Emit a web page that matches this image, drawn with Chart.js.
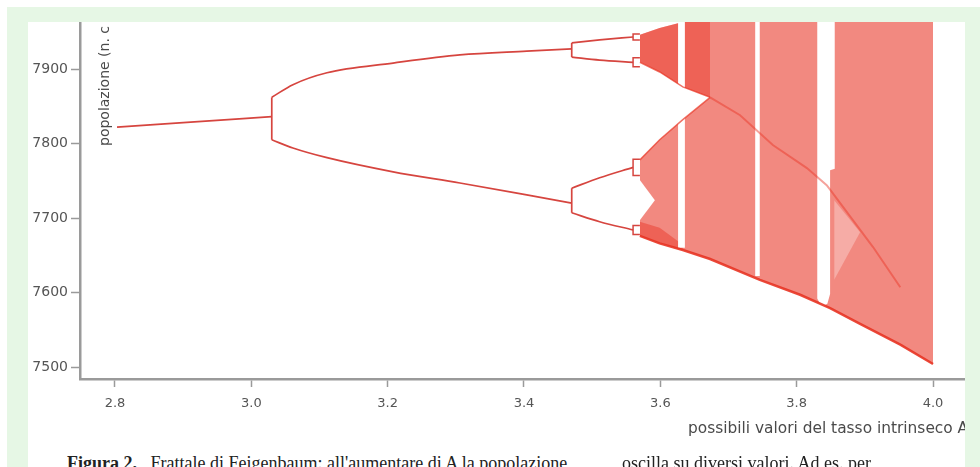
<!DOCTYPE html>
<html lang="it">
<head>
<meta charset="utf-8">
<title>Frattale di Feigenbaum</title>
<script src="https://cdn.jsdelivr.net/npm/chart.js@4.4.1/dist/chart.umd.min.js"></script>
<style>
  html, body { margin: 0; padding: 0; background: #fff; }
  body { width: 980px; height: 467px; position: relative; overflow: hidden; font-family: "DejaVu Sans", sans-serif; }
  #frame { position: absolute; left: 7px; top: 7px; right: 0; bottom: 0; background: #e6f7e5; }
  #panel { position: absolute; left: 28px; top: 22px; width: 937px; height: 445px; background: #fff; overflow: hidden; }
  #chart { position: absolute; left: 0; top: 0; }
  .ytitle { position: absolute; left: 68px; top: 124px; transform-origin: 0 0; transform: rotate(-90deg); font-size: 14px; line-height: 16px; color: #4a4a4a; white-space: nowrap; }
  .xtitle { position: absolute; left: 660px; top: 398px; font-size: 15.4px; line-height: 17px; color: #4a4a4a; white-space: nowrap; }
  .caption { position: absolute; top: 432px; font-family: "Liberation Serif", serif; font-size: 18px; line-height: 18px; color: #222; white-space: nowrap; }
</style>
</head>
<body>
<div id="frame"></div>
<div id="panel">
  <canvas id="chart" width="937" height="400"></canvas>
  <div class="ytitle">popolazione (n. c</div>
  <div class="xtitle">possibili valori del tasso intrinseco A</div>
  <div class="caption" style="left:39px"><b>Figura 2.</b>&nbsp;&nbsp; Frattale di Feigenbaum: all'aumentare di A la popolazione</div>
  <div class="caption" style="left:594px">oscilla su diversi valori. Ad es. per</div>
</div>
<script>
const xTicks = [2.8, 3.0, 3.2, 3.4, 3.6, 3.8, 4.0];
const yTicks = [7500, 7600, 7700, 7800, 7900];

// single stable value
const rStable = [2.803, 2.9, 3.030];
const popStable = [7822, 7828, 7836];

// period 2
const rPeriod2 = [3.030, 3.061, 3.111, 3.208, 3.306, 3.404, 3.470];
const popPeriod2Upper = [7862, 7879, 7895, 7908, 7919, 7924, 7927];
const popPeriod2Lower = [7805, 7794, 7781, 7762, 7747, 7731, 7720];

// period 4
const rPeriod4 = [3.470, 3.511, 3.560];
const popPeriod4A = [7935, 7939, 7943];
const popPeriod4B = [7916, 7912, 7909];
const popPeriod4C = [7740, 7754, 7768];
const popPeriod4D = [7707, 7695, 7684];

// period 8 (small eyes before chaos)
const rPeriod8 = [3.560, 3.570];
const popPeriod8High = [7947, 7915, 7779, 7690];
const popPeriod8Low = [7939, 7903, 7757, 7678];

// chaotic region envelope
const rChaos = [3.570, 3.599, 3.633, 3.673, 3.746, 3.805, 3.849, 3.893, 3.952, 4.000];
const popChaosTop = [7946, 7955, 7963, 7975, 7990, 7990, 7990, 7990, 7990, 7990];
const popChaosBottom = [7676, 7666, 7657, 7645, 7617, 7597, 7579, 7558, 7530, 7504];

// two bands before they merge
const rBands = [3.570, 3.599, 3.633, 3.673];
const popUpperBandFloor = [7909, 7896, 7876, 7862];
const popLowerBandCeil = [7778, 7805, 7832, 7862];

// dense bottom of the lower band
const rLowDense = [3.570, 3.599, 3.633];
const popLowDenseTop = [7695, 7687, 7664];

// white wedge inside lower band
const rWedge = [3.570, 3.592];
const popWedgeTop = [7751, 7724];
const popWedgeBottom = [7697, 7724];

// light wedge right of the period-3 window
const rWedge3 = [3.855, 3.893];
const popWedge3Top = [7724, 7681];
const popWedge3Bottom = [7617, 7681];

// periodic windows
const rWindow6 = [3.626, 3.636];
const popWindow6Floor = [7660, 7660];
const rWindow5 = [3.739, 3.746];
const popWindow5Floor = [7622, 7622];
const rWindow3 = [3.830, 3.837, 3.845, 3.849, 3.849, 3.856];
const popWindow3Floor = [7592, 7581, 7585, 7598, 7764, 7766];

// dense curve crossing the chaos
const rDense = [3.673, 3.717, 3.765, 3.815, 3.844, 3.849, 3.912, 3.952];
const popDense = [7862, 7838, 7798, 7767, 7744, 7738, 7661, 7607];

const RED = "rgba(232, 52, 36, ";
const LINE = "#d6453f";

function pts(rs, ps) {
  return rs.map((r, i) => ({ x: r, y: ps[i] }));
}

function hidden(data) {
  return { data, borderWidth: 0, borderColor: "transparent", fill: false };
}

function area(data, color, fill) {
  return { data, borderWidth: 0, borderColor: "transparent", backgroundColor: color, fill: fill || "-1" };
}

function stroke(data, color, width) {
  return { data, borderColor: color, borderWidth: width, fill: false };
}

function branch(rs, ps) {
  const s = stroke(pts(rs, ps), LINE, 1.7);
  s.cubicInterpolationMode = "monotone";
  return s;
}

function bracket(r, a, b) {
  return stroke([{ x: r, y: a }, { x: r, y: b }], LINE, 1.7);
}

// listed in paint order, background first
const sets = [
  hidden(pts(rChaos, popChaosTop)),
  area(pts(rChaos, popChaosBottom), RED + "0.58)"),
  hidden(pts(rBands, popChaosTop.slice(0, 4))),
  area(pts(rBands, popUpperBandFloor), RED + "0.45)"),
  hidden(pts(rLowDense, popLowDenseTop)),
  area(pts(rLowDense, popChaosBottom.slice(0, 3)), RED + "0.45)"),
  hidden(pts(rBands, popUpperBandFloor)),
  area(pts(rBands, popLowerBandCeil), "#ffffff"),
  hidden(pts(rWedge, popWedgeTop)),
  area(pts(rWedge, popWedgeBottom), "#ffffff"),
  hidden(pts(rWedge3, popWedge3Top)),
  area(pts(rWedge3, popWedge3Bottom), "rgba(255,255,255,0.3)"),
  area(pts(rWindow6, popWindow6Floor), "#ffffff", "end"),
  area(pts(rWindow5, popWindow5Floor), "#ffffff", "end"),
  area(pts(rWindow3, popWindow3Floor), "#ffffff", "end"),
  stroke(pts(rBands, popUpperBandFloor), RED + "0.7)", 1.5),
  stroke(pts(rBands, popLowerBandCeil), RED + "0.7)", 1.5),
  stroke(pts(rChaos, popChaosBottom), RED + "0.9)", 2.5),
  stroke(pts(rDense, popDense), RED + "0.45)", 2),
  branch(rStable, popStable),
  bracket(rPeriod2[0], popPeriod2Lower[0], popPeriod2Upper[0]),
  branch(rPeriod2, popPeriod2Upper),
  branch(rPeriod2, popPeriod2Lower),
  bracket(rPeriod4[0], popPeriod4B[0], popPeriod4A[0]),
  bracket(rPeriod4[0], popPeriod4D[0], popPeriod4C[0]),
  branch(rPeriod4, popPeriod4A),
  branch(rPeriod4, popPeriod4B),
  branch(rPeriod4, popPeriod4C),
  branch(rPeriod4, popPeriod4D)
];

popPeriod8High.forEach((hi, i) => {
  const lo = popPeriod8Low[i];
  sets.push(stroke([
    { x: rPeriod8[1], y: lo },
    { x: rPeriod8[0], y: lo },
    { x: rPeriod8[0], y: hi },
    { x: rPeriod8[1], y: hi }
  ], LINE, 1.5));
});

sets.forEach((s, i) => {
  s.order = sets.length - i;
  s.pointRadius = 0;
  if (!s.cubicInterpolationMode) s.tension = 0;
});

const axisColor = "#9a9a9a";

new Chart(document.getElementById("chart"), {
  type: "line",
  data: { datasets: sets },
  options: {
    responsive: false,
    animation: false,
    devicePixelRatio: 1,
    layout: { padding: 0, autoPadding: false },
    plugins: { legend: { display: false }, tooltip: { enabled: false } },
    scales: {
      x: {
        type: "linear",
        min: 2.7487,
        max: 4.0469,
        afterBuildTicks: (s) => { s.ticks = xTicks.map((v) => ({ value: v })); },
        afterFit: (s) => { s.height = 43; s.paddingLeft = 0; s.paddingRight = 0; },
        grid: { drawOnChartArea: false, tickLength: 8, color: axisColor, tickWidth: 1.5 },
        border: { color: axisColor, width: 2.5 },
        ticks: {
          color: "#555",
          font: { family: "DejaVu Sans", size: 13 },
          padding: 9,
          maxRotation: 0,
          autoSkip: false,
          callback: (v) => Number(v).toFixed(1)
        }
      },
      y: {
        type: "linear",
        min: 7483.9,
        max: 7963.1,
        afterBuildTicks: (s) => { s.ticks = yTicks.map((v) => ({ value: v })); },
        afterFit: (s) => { s.width = 52; s.paddingTop = 0; s.paddingBottom = 0; },
        grid: { drawOnChartArea: false, tickLength: 9, color: axisColor, tickWidth: 1.5 },
        border: { color: axisColor, width: 2.5 },
        ticks: {
          color: "#555",
          font: { family: "DejaVu Sans", size: 14 },
          padding: 3,
          autoSkip: false,
          callback: (v) => String(v)
        }
      }
    }
  }
});
</script>
</body>
</html>
